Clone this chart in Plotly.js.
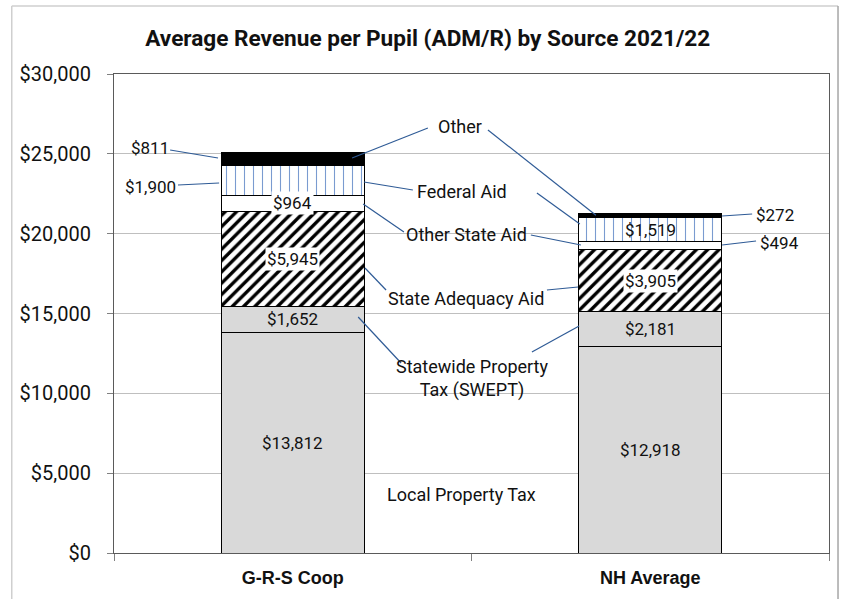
<!DOCTYPE html>
<html>
<head>
<meta charset="utf-8">
<script src="https://cdn.plot.ly/plotly-3.0.1.min.js"></script>
<style>
html,body{margin:0;padding:0;background:#fff;}
#chart{width:842px;height:599px;}
</style>
</head>
<body>
<div id="chart"></div>
<script>
// ---- data ----
const categories = ["G-R-S Coop", "NH Average"];
const seriesNames = ["Local Property Tax", "Statewide Property Tax (SWEPT)", "State Adequacy Aid", "Other State Aid", "Federal Aid", "Other"];
const localPropertyTax = [13812, 12918];
const swept = [1652, 2181];
const stateAdequacyAid = [5945, 3905];
const otherStateAid = [964, 494];
const federalAid = [1900, 1519];
const otherRevenue = [811, 272];
const yTickValues = [0, 5000, 10000, 15000, 20000, 25000, 30000];

const seriesValues = [localPropertyTax, swept, stateAdequacyAid, otherStateAid, federalAid, otherRevenue];

// ---- styles ----
const FONT = "Roboto, 'Open Sans', sans-serif";
const lineBlue = "#2f5b96";
const seriesStyles = [
  {color: "#d9d9d9"},
  {color: "#d9d9d9"},
  {color: "#ffffff", pattern: {shape: "/", fgcolor: "#000000", bgcolor: "#ffffff", size: 8, solidity: 0.42}},
  {color: "#ffffff"},
  {color: "#ffffff", pattern: {shape: "|", fgcolor: "#7a9bd0", bgcolor: "#ffffff", size: 9, solidity: 0.12}},
  {color: "#000000"}
];
// label mode per series per category: 'in' plain, 'box' white box, 'none'
const labelModes = [
  ["in", "in"],
  ["in", "in"],
  ["box", "box"],
  ["box", "none"],
  ["none", "in"],
  ["none", "none"]
];

const fmt = v => "$" + v.toLocaleString("en-US");

const traces = seriesValues.map((vals, i) => {
  const st = seriesStyles[i];
  const marker = {color: st.color, line: {color: "#000000", width: 1}};
  if (st.pattern) marker.pattern = Object.assign({fillmode: "replace"}, st.pattern);
  return {
    type: "bar",
    name: seriesNames[i],
    x: categories,
    y: vals,
    width: 0.4,
    marker: marker,
    hoverinfo: "skip",
    showlegend: false
  };
});

const annotations = [];
// in-bar value labels at segment midpoints
categories.forEach((cat, c) => {
  let base = 0;
  seriesValues.forEach((vals, i) => {
    const v = vals[c];
    const mode = labelModes[i][c];
    if (mode !== "none") {
      annotations.push({
        x: cat, y: base + v / 2, xref: "x", yref: "y",
        text: fmt(v), showarrow: false,
        font: {family: FONT, size: 17, color: "#111"},
        bgcolor: mode === "box" ? "#ffffff" : "rgba(0,0,0,0)",
        borderpad: 1
      });
    }
    base += v;
  });
});

// outside value labels
function outLabel(xd, yd, text, anchor) {
  annotations.push({x: xd, y: yd, xref: "x", yref: "y", text: text, showarrow: false,
    xanchor: anchor, font: {family: FONT, size: 17, color: "#111"}});
}
outLabel(-0.34, 25365, fmt(otherRevenue[0]), "right");
outLabel(-0.32, 22923, fmt(federalAid[0]), "right");
outLabel(1.29, 21169, fmt(otherRevenue[1]), "left");
outLabel(1.30, 19415, fmt(otherStateAid[1]), "left");

// series name labels
function nameLabel(xd, yd, text) {
  annotations.push({x: xd, y: yd, xref: "x", yref: "y", text: text, showarrow: false,
    font: {family: FONT, size: 18, color: "#111"}});
}
nameLabel(0.468, 26743, "Other");
nameLabel(0.473, 22672, "Federal Aid");
nameLabel(0.485, 19979, "Other State Aid");
nameLabel(0.485, 15971, "State Adequacy Aid");
nameLabel(0.501, 10960, "Statewide Property<br>Tax (SWEPT)");
nameLabel(0.471, 3633, "Local Property Tax");

// leader lines
const leaders = [
  [0.378, 26618, 0.166, 24739],
  [0.546, 26492, 0.848, 21150],
  [0.336, 22735, 0.199, 23236],
  [0.683, 22547, 0.803, 20605],
  [0.311, 20104, 0.197, 21858],
  [0.666, 19916, 0.806, 19290],
  [0.261, 16472, 0.202, 17850],
  [0.711, 16472, 0.798, 16660],
  [0.303, 11900, 0.183, 14781],
  [0.669, 12589, 0.801, 14217],
  [-0.343, 25240, -0.209, 24739],
  [-0.321, 23048, -0.206, 23173],
  [1.201, 21106, 1.285, 21232],
  [1.201, 19290, 1.296, 19541]
];
const shapes = leaders.map(l => ({
  type: "line", xref: "x", yref: "y", x0: l[0], y0: l[1], x1: l[2], y1: l[3],
  line: {color: lineBlue, width: 1.2}, layer: "above"
}));
// outer chart frame
shapes.push({type: "line", xref: "paper", yref: "paper", x0: -0.143, x1: 1.0126, y0: 1.142, y1: 1.142, line: {color: "#cfcfcf", width: 1.5}});
shapes.push({type: "line", xref: "paper", yref: "paper", x0: -0.143, x1: -0.143, y0: 1.142, y1: -0.2, line: {color: "#cfcfcf", width: 1.5}});
shapes.push({type: "line", xref: "paper", yref: "paper", x0: 1.0126, x1: 1.0126, y0: 1.142, y1: -0.2, line: {color: "#a6a6a6", width: 1.5}});

const layout = {
  width: 842, height: 599,
  margin: {l: 114, r: 13, t: 74, b: 46},
  paper_bgcolor: "#ffffff", plot_bgcolor: "#ffffff",
  barmode: "stack",
  showlegend: false,
  title: {
    text: "<b>Average Revenue per Pupil (ADM/R) by Source 2021/22</b>",
    font: {family: FONT, size: 22.6, color: "#111"},
    xref: "container", yref: "container", x: 0.508, y: 0.937, xanchor: "center", yanchor: "middle"
  },
  xaxis: {
    type: "category",
    range: [-0.5, 1.5],
    tickson: "boundaries",
    ticks: "outside", ticklen: 7, tickcolor: "#808080",
    showgrid: false,
    showline: true, mirror: true, linecolor: "#5a5a5a", linewidth: 1,
    tickfont: {family: "'Liberation Sans Narrow', 'Arial Narrow', sans-serif", size: 18, color: "#111", weight: "bold"},
    ticklabelstandoff: 8
  },
  yaxis: {
    range: [0, 30000],
    tickvals: yTickValues,
    ticktext: yTickValues.map(fmt),
    ticks: "outside", ticklen: 6, tickcolor: "#808080",
    showgrid: true, gridcolor: "#bfbfbf", gridwidth: 1,
    zeroline: false,
    showline: true, mirror: true, linecolor: "#5a5a5a", linewidth: 1,
    tickfont: {family: FONT, size: 20, color: "#111"},
    ticklabelstandoff: 12
  },
  annotations: annotations,
  shapes: shapes
};

Plotly.newPlot("chart", traces, layout, {displayModeBar: false, staticPlot: true});
</script>
</body>
</html>
